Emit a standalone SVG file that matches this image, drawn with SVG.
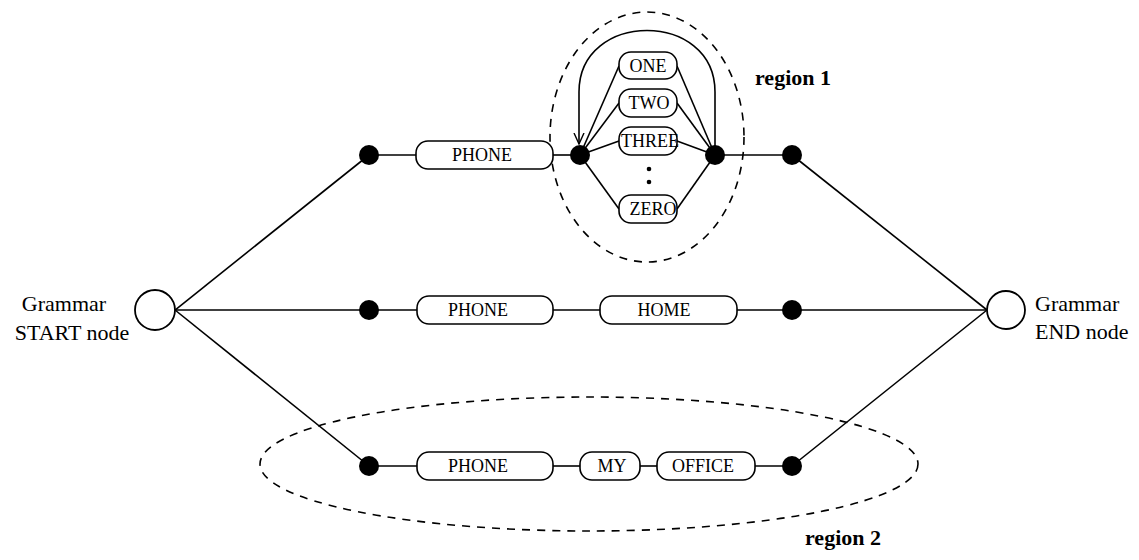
<svg xmlns="http://www.w3.org/2000/svg" width="1139" height="560" viewBox="0 0 1139 560">
<style>
.ln{stroke:#000;stroke-width:1.6;fill:none}
.box{fill:#fff;stroke:#000;stroke-width:1.6}
.dot{fill:#000}
.term{fill:#fff;stroke:#000;stroke-width:1.8}
.dash{fill:none;stroke:#000;stroke-width:1.6;stroke-dasharray:8 7}
.bt{font-family:"Liberation Serif",serif;font-size:18px;fill:#000;text-anchor:middle}
.lab{font-family:"Liberation Serif",serif;font-size:22px;fill:#000}
.reg{font-family:"Liberation Serif",serif;font-size:22px;font-weight:bold;fill:#000}
</style>
<defs>
<marker id="arr" viewBox="0 0 12 12" refX="11" refY="6" markerWidth="12" markerHeight="12" markerUnits="userSpaceOnUse" orient="auto">
<path d="M0,1 L11,6 L0,11" fill="none" stroke="#000" stroke-width="1.4"/>
</marker>
</defs>
<rect width="1139" height="560" fill="#fff"/>

<g id="region1"><ellipse class="dash" cx="647" cy="137" rx="97" ry="125"/></g>
<g id="region2"><ellipse class="dash" cx="589" cy="464" rx="329" ry="67"/></g>

<g id="connectors">
<line class="ln" x1="175" y1="310" x2="369" y2="155"/>
<line class="ln" x1="175" y1="310" x2="369" y2="310"/>
<line class="ln" x1="175" y1="310" x2="369" y2="466"/>
<line class="ln" x1="792" y1="155" x2="987" y2="310"/>
<line class="ln" x1="792" y1="310" x2="987" y2="310"/>
<line class="ln" x1="792" y1="466" x2="987" y2="310"/>
<line class="ln" x1="369" y1="155" x2="416" y2="155"/>
<line class="ln" x1="553" y1="155" x2="580" y2="155"/>
<line class="ln" x1="715" y1="155" x2="792" y2="155"/>
<line class="ln" x1="580" y1="155" x2="619" y2="66"/>
<line class="ln" x1="580" y1="155" x2="619" y2="103"/>
<line class="ln" x1="580" y1="155" x2="619" y2="141"/>
<line class="ln" x1="580" y1="155" x2="619" y2="209"/>
<line class="ln" x1="677" y1="66" x2="715" y2="155"/>
<line class="ln" x1="677" y1="103" x2="715" y2="155"/>
<line class="ln" x1="677" y1="141" x2="715" y2="155"/>
<line class="ln" x1="677" y1="209" x2="715" y2="155"/>
<path class="ln" d="M715,155 L715,92 C715,10 579,10 579,92 L579,144" marker-end="url(#arr)"/>
<line class="ln" x1="369" y1="310" x2="417" y2="310"/>
<line class="ln" x1="553" y1="310" x2="600" y2="310"/>
<line class="ln" x1="737" y1="310" x2="792" y2="310"/>
<line class="ln" x1="369" y1="466" x2="417" y2="466"/>
<line class="ln" x1="553" y1="466" x2="580" y2="466"/>
<line class="ln" x1="640" y1="466" x2="657" y2="466"/>
<line class="ln" x1="755" y1="466" x2="792" y2="466"/>
</g>

<g id="start"><circle class="term" cx="155" cy="310" r="20"/>
<text class="lab" x="64" y="311" text-anchor="middle">Grammar</text>
<text class="lab" x="72" y="340" text-anchor="middle">START node</text></g>
<g id="end"><circle class="term" cx="1006" cy="310" r="19"/>
<text class="lab" x="1035" y="311">Grammar</text>
<text class="lab" x="1035" y="339">END node</text></g>

<g id="d-top-l"><circle class="dot" cx="369" cy="155" r="10"/></g>
<g id="d-mid-l"><circle class="dot" cx="369" cy="310" r="10"/></g>
<g id="d-bot-l"><circle class="dot" cx="369" cy="466" r="10"/></g>
<g id="d-top-r"><circle class="dot" cx="792" cy="155" r="10"/></g>
<g id="d-mid-r"><circle class="dot" cx="792" cy="310" r="10"/></g>
<g id="d-bot-r"><circle class="dot" cx="792" cy="466" r="10"/></g>
<g id="d-r1-l"><circle class="dot" cx="580" cy="155" r="10"/></g>
<g id="d-r1-r"><circle class="dot" cx="715" cy="155" r="10"/></g>
<g id="ellipsis"><circle class="dot" cx="649" cy="169" r="2.3"/><circle class="dot" cx="649" cy="182" r="2.3"/></g>

<g id="phone1"><rect class="box" x="416" y="141" width="137" height="28" rx="12"/><text class="bt" x="482" y="161">PHONE</text></g>
<g id="one"><rect class="box" x="619" y="52" width="58" height="27" rx="12"/><text class="bt" x="648" y="72">ONE</text></g>
<g id="two"><rect class="box" x="619" y="89" width="58" height="28" rx="12"/><text class="bt" x="649" y="109">TWO</text></g>
<g id="three"><rect class="box" x="619" y="127" width="58" height="28" rx="12"/><text class="bt" x="650" y="147">THREE</text></g>
<g id="zero"><rect class="box" x="619" y="195" width="58" height="28" rx="12"/><text class="bt" x="653" y="215">ZERO</text></g>

<g id="phone2"><rect class="box" x="417" y="296" width="136" height="28" rx="12"/><text class="bt" x="478" y="316">PHONE</text></g>
<g id="home"><rect class="box" x="600" y="296" width="137" height="28" rx="12"/><text class="bt" x="664" y="316">HOME</text></g>

<g id="phone3"><rect class="box" x="417" y="452" width="136" height="28" rx="12"/><text class="bt" x="478" y="472">PHONE</text></g>
<g id="my"><rect class="box" x="580" y="452" width="60" height="28" rx="12"/><text class="bt" x="612" y="472">MY</text></g>
<g id="office"><rect class="box" x="657" y="452" width="98" height="28" rx="12"/><text class="bt" x="703" y="472">OFFICE</text></g>

<text class="reg" x="755" y="85">region 1</text>
<text class="reg" x="805" y="545">region 2</text>
</svg>
